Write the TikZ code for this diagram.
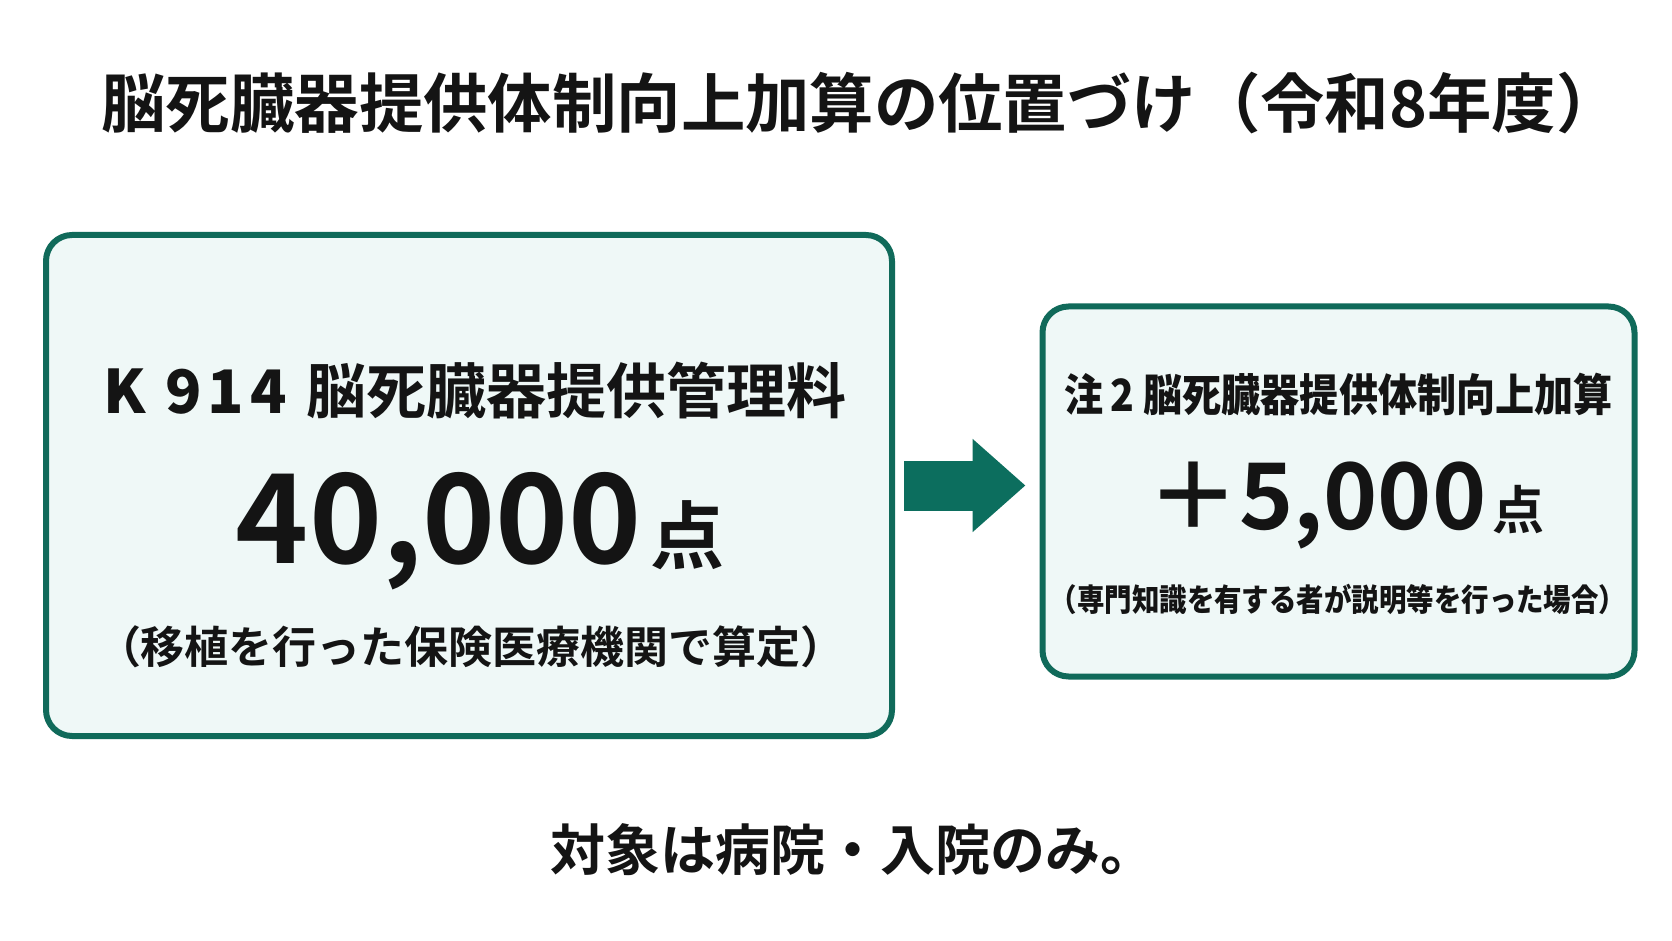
\documentclass[tikz,border=0pt]{standalone}
\usepackage{fontspec}
\setmainfont{Noto Sans CJK JP}[BoldFont={* Bold}]
\newfontfamily\narrowjp{Noto Sans CJK JP}[UprightFont={* Bold}, FakeStretch=0.88]
\newfontfamily\widejp{Noto Sans CJK JP}[UprightFont={* Bold}, LetterSpace=10]
\usetikzlibrary{arrows.meta}
\definecolor{boxline}{HTML}{106A5A}
\definecolor{boxfill}{HTML}{EFF8F7}
\definecolor{arrowfill}{HTML}{0C6E5E}
\newcommand{\fsz}[1]{\fontsize{#1}{#1}\selectfont}

\begin{document}
\begin{tikzpicture}[x=0.5pt, y=-0.5pt, every node/.style = {inner sep=0pt, text=black!92, font=\bfseries},
    panel/.style = {draw=boxline, line width=3pt, fill=boxfill, rounded corners=13pt},
    bigarrow/.style = {draw=arrowfill, line width=25pt, -{Triangle[length=26.5pt, width=45pt]}}]
    \useasboundingbox (0,0) rectangle (1672,941);
    \node (title) at (861,103) {\fsz{32.2pt}脳死臓器提供体制向上加算の位置づけ（令和8年度）};
    % left panel
    \node[panel, minimum width=423pt, minimum height=250.5pt] (lbox) at (469,485.5) {};
    \node (lname) at (475,391) {{\widejp\fsz{30pt}K 914}\hspace{10pt}{\fsz{30pt}脳死臓器提供管理料}};
    \node[anchor=base] (lpts) at (480,563) {{\fsz{62pt}40,000}\hspace{4pt}{\fsz{37pt}点}};
    \node (lnote) at (471,647) {\fsz{22pt}（移植を行った保険医療機関で算定）};
    % right panel
    \node[panel, minimum width=296pt, minimum height=185pt] (rbox) at (1338.5,491.5) {};
    \node (rname) at (1338.5,394) {\narrowjp\fsz{22.2pt}注\,2 脳死臓器提供体制向上加算};
    \node[anchor=base] (rpts) at (1346,530) {{\fsz{46pt}＋5,000}\hspace{3pt}{\fsz{26pt}点}};
    \node (rnote) at (1338,599) {\narrowjp\fsz{15.6pt}（専門知識を有する者が説明等を行った場合）};
    \draw[bigarrow] ([xshift=4.5pt]lbox.east) -- ([xshift=-7pt]rbox.west |- lbox.east);
    \node (target) at (853,850) {\fsz{27.5pt}対象は病院・入院のみ。};
\end{tikzpicture}
\end{document}
